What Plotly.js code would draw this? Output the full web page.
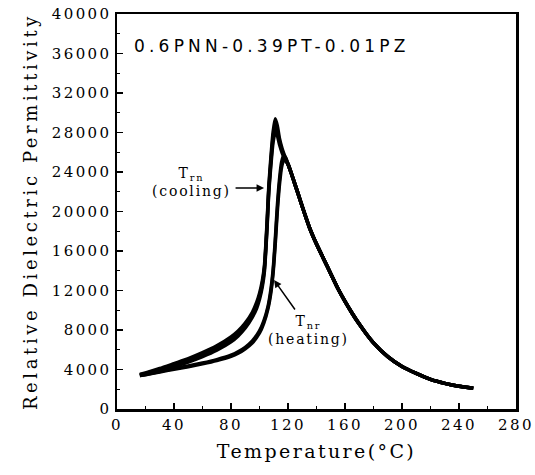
<!DOCTYPE html>
<html>
<head>
<meta charset="utf-8">
<script src="https://cdn.plot.ly/plotly-3.0.1.min.js"></script>
<style>
  html, body { margin: 0; padding: 0; background: #fff; }
  #chart { width: 535px; height: 475px; }
  .xtick text, .ytick text { letter-spacing: 2.4px; }
  text.xtitle { letter-spacing: 2.4px; }
  text.ytitle { letter-spacing: 3.6px; }
  .annotation-text { letter-spacing: 1.8px; }
</style>
</head>
<body>
<div id="chart"></div>
<script>
// Temperature (°C) and relative dielectric permittivity
const tailT   = [120, 122, 125, 128, 130, 135, 140, 145, 150, 155, 160, 165, 170, 175, 180, 190, 200, 210, 220, 230, 240, 250];
const tailEps = [24800, 24000, 22700, 21400, 20500, 18400, 16700, 15200, 13700, 12200, 10900, 9700, 8600, 7600, 6700, 5300, 4300, 3600, 3000, 2600, 2300, 2100];

const coolT   = [16, 20, 30, 40, 50, 60, 70, 80, 85, 90, 95, 98, 100, 102, 103.5, 104.5, 105.5, 106.5, 108, 109.5, 111, 112.5, 114, 116, 118];
const coolEps1 = [3500, 3650, 4100, 4600, 5100, 5700, 6400, 7300, 7900, 8700, 9800, 10800, 11700, 13000, 14600, 16800, 19500, 22500, 25500, 28000, 29400, 28700, 27400, 26300, 25500];
const coolEps2 = [3480, 3600, 4000, 4450, 4950, 5500, 6200, 7050, 7650, 8450, 9550, 10500, 11400, 12700, 14300, 16500, 19200, 22200, 25100, 27500, 28700, 28200, 27100, 26100, 25400];
const coolT3   = [30, 40, 50, 60, 70, 80, 85, 90, 95, 98, 100, 102, 103.5, 104.5, 105.5, 106.5, 108, 109.5, 111, 112.5, 114, 116, 118];
const coolEps3 = [3900, 4300, 4750, 5300, 5950, 6800, 7400, 8200, 9300, 10200, 11100, 12400, 14000, 16200, 18900, 21900, 24700, 27000, 28000, 27700, 26800, 25900, 25300];

const heatT    = [16, 20, 30, 40, 50, 60, 70, 80, 85, 90, 95, 100, 103, 106, 108, 109.5, 111, 112.5, 114, 115.5, 117, 118.5];
const heatEps1 = [3400, 3500, 3800, 4100, 4350, 4650, 5000, 5450, 5800, 6250, 6900, 7900, 8900, 10400, 12100, 14000, 17000, 20500, 23200, 25000, 25700, 25400];
const heatEps2 = [3380, 3470, 3750, 4030, 4280, 4570, 4900, 5330, 5650, 6100, 6700, 7700, 8700, 10200, 11800, 13700, 16600, 20000, 22700, 24500, 25200, 25100];

const xTickVals = [0, 40, 80, 120, 160, 200, 240, 280];
const yTickVals = [0, 4000, 8000, 12000, 16000, 20000, 24000, 28000, 32000, 36000, 40000];

const sampleLabel = '0.6PNN-0.39PT-0.01PZ';
const coolLabel = 'T<sub>rn</sub><br>(cooling)';
const heatLabel = 'T<sub>nr</sub><br>(heating)';

function curve(t, e) {
  return {
    x: t.concat(tailT), y: e.concat(tailEps),
    mode: 'lines', type: 'scatter',
    line: { color: '#000', width: 3.5, shape: 'spline', smoothing: 0.6 },
    hoverinfo: 'skip', showlegend: false
  };
}

const data = [
  curve(coolT, coolEps1),
  curve(coolT, coolEps2),
  curve(coolT3, coolEps3),
  curve(heatT, heatEps1),
  curve(heatT, heatEps2)
];

const serif = 'DejaVu Serif, Liberation Serif, serif';

const layout = {
  width: 535, height: 475,
  margin: { l: 117, r: 19, t: 14, b: 66 },
  paper_bgcolor: '#fff', plot_bgcolor: '#fff',
  showlegend: false,
  font: { family: serif, color: '#000', size: 15 },
  xaxis: {
    range: [0, 280], tickvals: xTickVals, ticktext: xTickVals.map(String),
    ticks: 'inside', ticklen: 6, tickwidth: 1.5, tickcolor: '#000',
    minor: { dtick: 20, tick0: 0, ticks: 'inside', ticklen: 3, tickwidth: 1, tickcolor: '#000' },
    showline: true, linewidth: 2.5, linecolor: '#000', mirror: true,
    showgrid: false, zeroline: false,
    tickfont: { family: serif, size: 15 },
    title: { text: 'Temperature(°C)', font: { family: serif, size: 19 }, standoff: 12 }
  },
  yaxis: {
    range: [0, 40000], tickvals: yTickVals, ticktext: yTickVals.map(String),
    ticks: 'inside', ticklen: 6, tickwidth: 1.5, tickcolor: '#000',
    minor: { dtick: 2000, tick0: 0, ticks: 'inside', ticklen: 3, tickwidth: 1, tickcolor: '#000' },
    showline: true, linewidth: 2.5, linecolor: '#000', mirror: true,
    showgrid: false, zeroline: false,
    tickfont: { family: serif, size: 15 },
    title: { text: 'Relative Dielectric Permittivity', font: { family: serif, size: 18 }, standoff: 10 }
  },
  annotations: [
    { x: 27.7, y: 36760, xref: 'x', yref: 'y', text: sampleLabel, showarrow: false,
      xanchor: 'left', yanchor: 'middle', font: { family: 'DejaVu Sans, sans-serif', size: 17 } },
    { x: 52.5, y: 23000, xref: 'x', yref: 'y', text: coolLabel, showarrow: false,
      xanchor: 'center', yanchor: 'middle', align: 'center', font: { family: serif, size: 14 } },
    { x: 103.2, y: 22380, xref: 'x', yref: 'y', text: '', showarrow: true,
      ax: -30, ay: 0, arrowhead: 2, arrowsize: 1, arrowwidth: 1.5, arrowcolor: '#000' },
    { x: 134.5, y: 8000, xref: 'x', yref: 'y', text: heatLabel, showarrow: false,
      xanchor: 'center', yanchor: 'middle', align: 'center', font: { family: serif, size: 14 } },
    { x: 110.2, y: 13060, xref: 'x', yref: 'y', text: '', showarrow: true,
      ax: 22, ay: 31, arrowhead: 2, arrowsize: 1, arrowwidth: 1.5, arrowcolor: '#000' }
  ]
};

Plotly.newPlot('chart', data, layout, { staticPlot: true, displayModeBar: false }).then(function () {
  // wider spacing for the sample label, as in the reference
  const t = document.querySelectorAll('.annotation-text')[0];
  if (t) t.style.letterSpacing = '4.2px';
});
</script>
</body>
</html>
